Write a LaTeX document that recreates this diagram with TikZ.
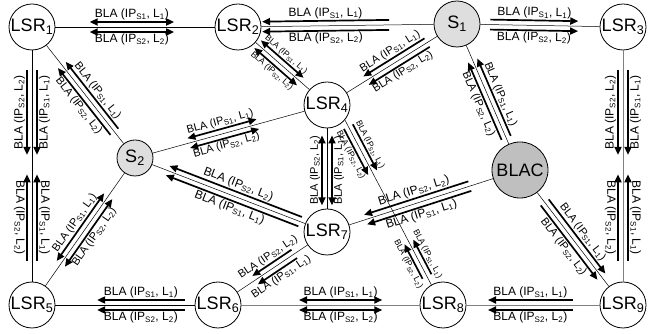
\documentclass[tikz,border=0pt]{standalone}
\usepackage{fontspec}
\setmainfont{Liberation Sans}
\usetikzlibrary{arrows.meta, calc}

\newcommand{\blaA}{BLA (IP\textsubscript{S1}, L\textsubscript{1})}
\newcommand{\blaB}{BLA (IP\textsubscript{S2}, L\textsubscript{2})}
% pair of BLA arrows beside the link #2--#3, between fractions #4 and #5
\newcommand{\blapair}[8][]{%
  \draw[bla,#6] ($(#2)!#4!(#3)!5pt!90:(#3)$) -- ($(#2)!#5!(#3)!5pt!90:(#3)$)
    node[lbl,#1,midway,above] {#7};
  \draw[bla,#6] ($(#2)!#4!(#3)!5pt!-90:(#3)$) -- ($(#2)!#5!(#3)!5pt!-90:(#3)$)
    node[lbl,#1,midway,below] {#8};
}

\begin{document}
\begin{tikzpicture}[x=1pt, y=1pt,
  lsr/.style={circle, draw, line width=0.8pt, fill=white, minimum size=46pt,
              inner sep=0pt, font=\fontsize{18}{18}\selectfont},
  src/.style={lsr, fill=black!13},
  ctrl/.style={lsr, fill=black!25, minimum size=56pt},
  link/.style={line width=0.5pt},
  glink/.style={line width=0.8pt, draw=black!50},
  bla/.style={line width=1.7pt, >={Triangle[length=8pt,width=7pt]}},
  lbl/.style={font=\fontsize{12}{12}\selectfont, sloped, allow upside down, inner sep=1pt},
  midtext/.style={font=\fontsize{11}{11}\selectfont},
  smalltext/.style={font=\fontsize{8.5}{8.5}\selectfont}
]
  \useasboundingbox (0,0) rectangle (650,334);

  \node[lsr] (lsr1) at (32,307) {LSR\textsubscript{1}};
  \node[lsr] (lsr2) at (238,307) {LSR\textsubscript{2}};
  \node[src] (s1) at (457,310) {S\textsubscript{1}};
  \node[lsr] (lsr3) at (623,307) {LSR\textsubscript{3}};
  \node[lsr] (lsr4) at (327,229) {LSR\textsubscript{4}};
  \node[src, minimum size=36pt] (s2) at (135,176) {S\textsubscript{2}};
  \node[ctrl] (blac) at (520,164) {BLAC};
  \node[lsr] (lsr7) at (327,102) {LSR\textsubscript{7}};
  \node[lsr] (lsr5) at (32,29) {LSR\textsubscript{5}};
  \node[lsr] (lsr6) at (218,29) {LSR\textsubscript{6}};
  \node[lsr] (lsr8) at (443,29) {LSR\textsubscript{8}};
  \node[lsr] (lsr9) at (623,29) {LSR\textsubscript{9}};

  % links
  \draw[link] (lsr1) -- (lsr2);
  \draw[link] (lsr2) -- (s1);
  \draw[link] (s1) -- (lsr3);
  \draw[link] (lsr1) -- (lsr5);
  \draw[glink] (lsr3) -- (lsr9);
  \draw[link] (lsr5) -- (lsr6);
  \draw[glink] (lsr6) -- (lsr8);
  \draw[glink] (lsr8) -- (lsr9);
  \draw[link] (lsr1) -- (s2);
  \draw[link] (s2) -- (lsr5);
  \draw[link] (lsr2) -- (lsr4);
  \draw[link] (s1) -- (lsr4);
  \draw[link] (s1) -- (blac);
  \draw[link] (s2) -- (lsr4);
  \draw[link] (lsr4) -- (lsr7);
  \draw[link] (lsr4.-40) -- (lsr8.120);
  \draw[link] (s2) -- (lsr7);
  \draw[link] (lsr7) -- (blac);
  \draw[link] (blac) -- (lsr9);
  \draw[link] (lsr6) -- (lsr7);

  % BLA messages
  \blapair{lsr1}{lsr2}{0.28}{0.69}{<->}{\blaA}{\blaB}
  \blapair{lsr2}{s1}{0.11}{0.69}{<-}{\blaA}{\blaB}
  \blapair{s1}{lsr3}{0.2}{0.73}{->}{\blaA}{\blaB}
  \blapair{lsr5}{lsr1}{0.54}{0.845}{<-}{\blaB}{\blaA}
  \blapair{lsr1}{lsr5}{0.53}{0.84}{<-}{\blaA}{\blaB}
  \blapair{lsr9}{lsr3}{0.54}{0.845}{<-}{\blaB}{\blaA}
  \blapair{lsr3}{lsr9}{0.53}{0.84}{<-}{\blaA}{\blaB}
  \blapair{lsr5}{lsr6}{0.35}{0.82}{<-}{\blaA}{\blaB}
  \blapair{lsr6}{lsr8}{0.36}{0.73}{<->}{\blaA}{\blaB}
  \blapair{lsr8}{lsr9}{0.25}{0.72}{<-}{\blaA}{\blaB}
  \blapair[midtext]{lsr1}{s2}{0.29}{0.8}{<-}{\blaA}{\blaB}
  \blapair[midtext]{lsr5}{s2}{0.28}{0.74}{<->}{\blaA}{\blaB}
  \blapair[smalltext]{lsr2}{lsr4}{0.22}{0.7}{<->}{\blaA}{\blaB}
  \blapair[midtext]{lsr4}{s1}{0.3}{0.77}{<-}{\blaA}{\blaB}
  \blapair[midtext]{s1}{blac}{0.25}{0.78}{<-}{\blaA}{\blaB}
  \blapair[midtext]{s2}{lsr4}{0.28}{0.64}{<->}{\blaA}{\blaB}
  \blapair[midtext]{lsr7}{lsr4}{0.21}{0.76}{<->}{\blaB}{\blaA}
  \blapair[smalltext]{lsr4.-40}{lsr8.120}{0.04}{0.32}{->}{\blaA}{\blaB}
  \blapair[smalltext]{lsr4.-40}{lsr8.120}{0.74}{0.95}{<-}{\blaA}{\blaB}
  \blapair{s2}{lsr7}{0.17}{0.86}{<-}{\blaB}{\blaA}
  \blapair{lsr7}{blac}{0.2}{0.74}{<-}{\blaB}{\blaA}
  \blapair[midtext]{blac}{lsr9}{0.24}{0.79}{->}{\blaA}{\blaB}
  \blapair[midtext]{lsr6}{lsr7}{0.34}{0.70}{<-}{\blaB}{\blaA}
\end{tikzpicture}
\end{document}
